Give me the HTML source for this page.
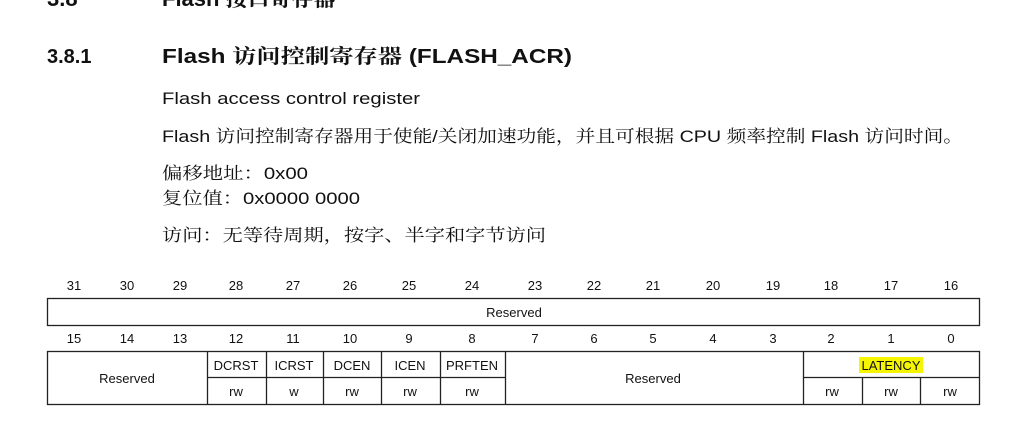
<!DOCTYPE html>
<html><head><meta charset="utf-8"><style>
html,body{margin:0;padding:0;background:#fff;width:1024px;height:422px;overflow:hidden}
svg{display:block}
.s{font-family:"Liberation Sans","Noto Serif CJK SC",serif;fill:#111}
.n{font-family:"Liberation Sans",sans-serif;font-size:13px;fill:#111;text-anchor:middle}
.c{font-family:"Liberation Sans",sans-serif;font-size:13px;fill:#111;text-anchor:middle}
</style></head><body>
<svg width="1024" height="422" xmlns="http://www.w3.org/2000/svg">
<text x="47" y="6" class="s" font-size="22" font-weight="bold">3.8</text>
<text x="162" y="6" class="s" font-size="22" font-weight="bold">Flash 接口寄存器</text>
<text x="47" y="63" class="s" font-size="20" font-weight="bold" font-family="Liberation Sans">3.8.1</text>
<text x="162" y="63" class="s" font-size="20" font-weight="bold" textLength="410" lengthAdjust="spacingAndGlyphs">Flash 访问控制寄存器 (FLASH_ACR)</text>
<text x="162" y="104" class="s" font-size="17" textLength="258" lengthAdjust="spacingAndGlyphs">Flash access control register</text>
<text x="162" y="142" class="s" font-size="17" textLength="801" lengthAdjust="spacingAndGlyphs">Flash 访问控制寄存器用于使能/关闭加速功能，并且可根据 CPU 频率控制 Flash 访问时间。</text>
<text x="162" y="179" class="s" font-size="17" textLength="146" lengthAdjust="spacingAndGlyphs">偏移地址：0x00</text>
<text x="162" y="204" class="s" font-size="17" textLength="198" lengthAdjust="spacingAndGlyphs">复位值：0x0000 0000</text>
<text x="162" y="241" class="s" font-size="17" textLength="384" lengthAdjust="spacingAndGlyphs">访问：无等待周期，按字、半字和字节访问</text>

<g class="n">
<text x="74" y="290">31</text><text x="127" y="290">30</text><text x="180" y="290">29</text><text x="236" y="290">28</text>
<text x="293" y="290">27</text><text x="350" y="290">26</text><text x="409" y="290">25</text><text x="472" y="290">24</text>
<text x="535" y="290">23</text><text x="594" y="290">22</text><text x="653" y="290">21</text><text x="713" y="290">20</text>
<text x="773" y="290">19</text><text x="831" y="290">18</text><text x="891" y="290">17</text><text x="951" y="290">16</text>
<text x="74" y="343">15</text><text x="127" y="343">14</text><text x="180" y="343">13</text><text x="236" y="343">12</text>
<text x="293" y="343">11</text><text x="350" y="343">10</text><text x="409" y="343">9</text><text x="472" y="343">8</text>
<text x="535" y="343">7</text><text x="594" y="343">6</text><text x="653" y="343">5</text><text x="713" y="343">4</text>
<text x="773" y="343">3</text><text x="831" y="343">2</text><text x="891" y="343">1</text><text x="951" y="343">0</text>
</g>
<g fill="none" stroke="#222" stroke-width="1.3">
<rect x="47.5" y="298.5" width="932" height="27"/>
<rect x="47.5" y="351.5" width="932" height="53"/>
<path d="M207.5 351v54M266.5 351v54M323.5 351v54M381.5 351v54M440.5 351v54M505.5 351v54M803.5 351v54M862.5 377v28M920.5 377v28M207 377.5h298M803 377.5h177"/>
</g>
<rect x="859" y="357" width="64" height="16" fill="#f5f500"/>
<g class="c">
<text x="514" y="317">Reserved</text>
<text x="127" y="383">Reserved</text>
<text x="236" y="370">DCRST</text><text x="294" y="370">ICRST</text><text x="352" y="370">DCEN</text>
<text x="410" y="370">ICEN</text><text x="472" y="370">PRFTEN</text>
<text x="653" y="383">Reserved</text>
<text x="891" y="370">LATENCY</text>
<text x="236" y="396">rw</text><text x="294" y="396">w</text><text x="352" y="396">rw</text>
<text x="410" y="396">rw</text><text x="472" y="396">rw</text>
<text x="832" y="396">rw</text><text x="891" y="396">rw</text><text x="950" y="396">rw</text>
</g>
</svg>
</body></html>
